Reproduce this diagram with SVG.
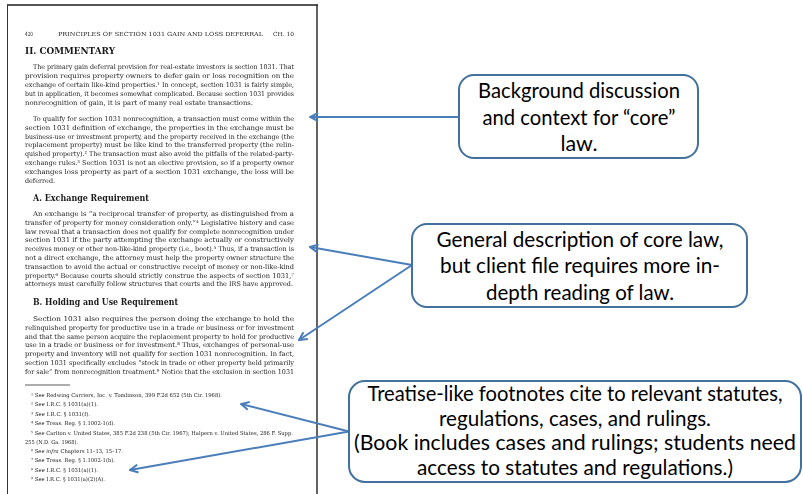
<svg xmlns="http://www.w3.org/2000/svg" width="803" height="494" viewBox="0 0 803 494">
<defs>
<marker id="ah" viewBox="0 0 10 10" refX="9" refY="5" markerWidth="10" markerHeight="10" markerUnits="userSpaceOnUse" orient="auto">
<path d="M1,1 L9,5 L1,9" fill="none" stroke="#4A7EBB" stroke-width="2" stroke-linejoin="miter"/>
</marker>
<filter id="gray" x="0" y="0" width="1" height="1" color-interpolation-filters="sRGB">
<feColorMatrix type="saturate" values="0"/>
</filter>
<style>
.pg{font-family:"DejaVu Serif","Liberation Serif",serif;fill:#1a1a1a;font-size:6.6px}
.hd{font-family:"DejaVu Serif","Liberation Serif",serif;fill:#1a1a1a;font-size:5.6px}
.h1{font-family:"DejaVu Serif","Liberation Serif",serif;fill:#1a1a1a;font-size:9.5px;font-weight:bold}
.h2{font-family:"DejaVu Serif","Liberation Serif",serif;fill:#1a1a1a;font-size:8.6px;font-weight:bold}
.fn{font-family:"DejaVu Serif","Liberation Serif",serif;fill:#1a1a1a;font-size:5.4px}
.it{font-style:italic}
.box{fill:#fff;stroke:#41719C;stroke-width:2}
.lbl{font-family:Lato,"Liberation Sans",sans-serif;fill:#000;font-size:22px;text-anchor:middle}
.lbl3{font-family:Lato,"Liberation Sans",sans-serif;fill:#000;font-size:21px;text-anchor:middle}
.cn{fill:none;stroke:#4A7EBB;stroke-width:2;marker-end:url(#ah)}
</style>
</defs>
<rect width="803" height="494" fill="#fff"/>
<g id="page" filter="url(#gray)">
<rect x="0" y="0" width="320" height="494" fill="#fff"/>
<line x1="7" y1="5" x2="318" y2="5" stroke="#555" stroke-width="2"/>
<line x1="7.5" y1="5" x2="7.5" y2="494" stroke="#333" stroke-width="1"/>
<line x1="317" y1="5" x2="317" y2="494" stroke="#222" stroke-width="1.4"/>
<text class="hd" x="25" y="35.5" textLength="8" lengthAdjust="spacingAndGlyphs">420</text>
<text class="hd" x="58" y="35.5" textLength="205" lengthAdjust="spacingAndGlyphs">PRINCIPLES OF SECTION 1031 GAIN AND LOSS DEFERRAL</text>
<text class="hd" x="273" y="35.5" textLength="21" lengthAdjust="spacingAndGlyphs">CH. 10</text>
<text class="h1" x="25" y="53.5" textLength="90" lengthAdjust="spacingAndGlyphs">II.   COMMENTARY</text>
<text class="pg" x="33" y="69" textLength="261" lengthAdjust="spacingAndGlyphs">The primary gain deferral provision for real-estate investors is section 1031. That</text>
<text class="pg" x="25" y="78" textLength="269" lengthAdjust="spacingAndGlyphs">provision requires property owners to defer gain or loss recognition on the</text>
<text class="pg" x="25" y="87" textLength="269" lengthAdjust="spacingAndGlyphs">exchange of certain like-kind properties.¹ In concept, section 1031 is fairly simple,</text>
<text class="pg" x="25" y="96" textLength="269" lengthAdjust="spacingAndGlyphs">but in application, it becomes somewhat complicated. Because section 1031 provides</text>
<text class="pg" x="25" y="105" textLength="228" lengthAdjust="spacingAndGlyphs">nonrecognition of gain, it is part of many real estate transactions.</text>
<text class="pg" x="33" y="121" textLength="261" lengthAdjust="spacingAndGlyphs">To qualify for section 1031 nonrecognition, a transaction must come within the</text>
<text class="pg" x="25" y="129.8" textLength="269" lengthAdjust="spacingAndGlyphs">section 1031 definition of exchange, the properties in the exchange must be</text>
<text class="pg" x="25" y="138.6" textLength="269" lengthAdjust="spacingAndGlyphs">business-use or investment property, and the property received in the exchange (the</text>
<text class="pg" x="25" y="147.4" textLength="269" lengthAdjust="spacingAndGlyphs">replacement property) must be like kind to the transferred property (the relin-</text>
<text class="pg" x="25" y="156.2" textLength="269" lengthAdjust="spacingAndGlyphs">quished property).² The transaction must also avoid the pitfalls of the related-party-</text>
<text class="pg" x="25" y="165" textLength="269" lengthAdjust="spacingAndGlyphs">exchange rules.³ Section 1031 is not an elective provision, so if a property owner</text>
<text class="pg" x="25" y="173.8" textLength="269" lengthAdjust="spacingAndGlyphs">exchanges loss property as part of a section 1031 exchange, the loss will be</text>
<text class="pg" x="25" y="182.6" textLength="30" lengthAdjust="spacingAndGlyphs">deferred.</text>
<text class="h2" x="33" y="201" textLength="116" lengthAdjust="spacingAndGlyphs">A.   Exchange Requirement</text>
<text class="pg" x="33" y="216" textLength="261" lengthAdjust="spacingAndGlyphs">An exchange is “a reciprocal transfer of property, as distinguished from a</text>
<text class="pg" x="25" y="224.8" textLength="269" lengthAdjust="spacingAndGlyphs">transfer of property for money consideration only.”⁴ Legislative history and case</text>
<text class="pg" x="25" y="233.6" textLength="269" lengthAdjust="spacingAndGlyphs">law reveal that a transaction does not qualify for complete nonrecognition under</text>
<text class="pg" x="25" y="242.4" textLength="269" lengthAdjust="spacingAndGlyphs">section 1031 if the party attempting the exchange actually or constructively</text>
<text class="pg" x="25" y="251.2" textLength="269" lengthAdjust="spacingAndGlyphs">receives money or other non-like-kind property (i.e., boot).⁵ Thus, if a transaction is</text>
<text class="pg" x="25" y="260" textLength="269" lengthAdjust="spacingAndGlyphs">not a direct exchange, the attorney must help the property owner structure the</text>
<text class="pg" x="25" y="268.8" textLength="269" lengthAdjust="spacingAndGlyphs">transaction to avoid the actual or constructive receipt of money or non-like-kind</text>
<text class="pg" x="25" y="277.6" textLength="269" lengthAdjust="spacingAndGlyphs">property.⁶ Because courts should strictly construe the aspects of section 1031,⁷</text>
<text class="pg" x="25" y="286.4" textLength="268" lengthAdjust="spacingAndGlyphs">attorneys must carefully follow structures that courts and the IRS have approved.</text>
<text class="h2" x="33" y="305" textLength="145" lengthAdjust="spacingAndGlyphs">B.   Holding and Use Requirement</text>
<text class="pg" x="33" y="321" textLength="261" lengthAdjust="spacingAndGlyphs">Section 1031 also requires the person doing the exchange to hold the</text>
<text class="pg" x="25" y="329.8" textLength="269" lengthAdjust="spacingAndGlyphs">relinquished property for productive use in a trade or business or for investment</text>
<text class="pg" x="25" y="338.6" textLength="269" lengthAdjust="spacingAndGlyphs">and that the same person acquire the replacement property to hold for productive</text>
<text class="pg" x="25" y="347.4" textLength="269" lengthAdjust="spacingAndGlyphs">use in a trade or business or for investment.⁸ Thus, exchanges of personal-use</text>
<text class="pg" x="25" y="356.2" textLength="269" lengthAdjust="spacingAndGlyphs">property and inventory will not qualify for section 1031 nonrecognition. In fact,</text>
<text class="pg" x="25" y="365" textLength="269" lengthAdjust="spacingAndGlyphs">section 1031 specifically excludes “stock in trade or other property held primarily</text>
<text class="pg" x="25" y="373.8" textLength="269" lengthAdjust="spacingAndGlyphs">for sale” from nonrecognition treatment.⁹ Notice that the exclusion in section 1031</text>
<line x1="25" y1="385" x2="70" y2="385" stroke="#333" stroke-width="0.8"/>
<text class="fn" x="31" y="396.8" textLength="191" lengthAdjust="spacingAndGlyphs">¹  <tspan class="it">See</tspan> Redwing Carriers, Inc. v. Tomlinson, 399 F.2d 652 (5th Cir. 1968).</text>
<text class="fn" x="31" y="406.3" textLength="67" lengthAdjust="spacingAndGlyphs">²  <tspan class="it">See</tspan> I.R.C. § 1031(a)(1).</text>
<text class="fn" x="31" y="415.8" textLength="59" lengthAdjust="spacingAndGlyphs">³  <tspan class="it">See</tspan> I.R.C. § 1031(f).</text>
<text class="fn" x="31" y="425.3" textLength="84" lengthAdjust="spacingAndGlyphs">⁴  <tspan class="it">See</tspan> Treas. Reg. § 1.1002-1(d).</text>
<text class="fn" x="31" y="434.8" textLength="262" lengthAdjust="spacingAndGlyphs">⁵  <tspan class="it">See</tspan> Carlton v. United States, 385 F.2d 238 (5th Cir. 1967); Halpern v. United States, 286 F. Supp.</text>
<text class="fn" x="25" y="443.8" textLength="53" lengthAdjust="spacingAndGlyphs">255 (N.D. Ga. 1968).</text>
<text class="fn" x="31" y="452.8" textLength="92" lengthAdjust="spacingAndGlyphs">⁶  <tspan class="it">See infra</tspan> Chapters 11–13, 15–17.</text>
<text class="fn" x="31" y="462.3" textLength="84" lengthAdjust="spacingAndGlyphs">⁷  <tspan class="it">See</tspan> Treas. Reg. § 1.1002-1(b).</text>
<text class="fn" x="31" y="471.8" textLength="67" lengthAdjust="spacingAndGlyphs">⁸  <tspan class="it">See</tspan> I.R.C. § 1031(a)(1).</text>
<text class="fn" x="31" y="481.3" textLength="74" lengthAdjust="spacingAndGlyphs">⁹  <tspan class="it">See</tspan> I.R.C. § 1031(a)(2)(A).</text>
</g>
<g id="connectors">
<line class="cn" x1="459" y1="117" x2="310" y2="117"/>
<line class="cn" x1="412" y1="265" x2="310" y2="247"/>
<line class="cn" x1="412" y1="265" x2="299" y2="340"/>
<line class="cn" x1="349" y1="431.5" x2="241" y2="404"/>
<line class="cn" x1="349" y1="431.5" x2="130" y2="470"/>
</g>
<g id="box1">
<rect class="box" x="459" y="75" width="239" height="83" rx="15"/>
<text class="lbl" x="579" y="98" textLength="202" lengthAdjust="spacingAndGlyphs">Background discussion</text>
<text class="lbl" x="579" y="124.5" textLength="193" lengthAdjust="spacingAndGlyphs">and context for “core”</text>
<text class="lbl" x="579" y="151" textLength="37" lengthAdjust="spacingAndGlyphs">law.</text>
</g>
<g id="box2">
<rect class="box" x="412" y="224" width="335" height="83" rx="15"/>
<text class="lbl" x="580" y="246.5" textLength="287" lengthAdjust="spacingAndGlyphs">General description of core law,</text>
<text class="lbl" x="580" y="273" textLength="280" lengthAdjust="spacingAndGlyphs">but client file requires more in-</text>
<text class="lbl" x="580" y="299.5" textLength="188" lengthAdjust="spacingAndGlyphs">depth reading of law.</text>
</g>
<g id="box3">
<rect class="box" x="349" y="381" width="452" height="101" rx="16"/>
<text class="lbl3" x="575" y="401" textLength="415" lengthAdjust="spacingAndGlyphs">Treatise-like footnotes cite to relevant statutes,</text>
<text class="lbl3" x="575" y="425.5" textLength="272" lengthAdjust="spacingAndGlyphs">regulations, cases, and rulings.</text>
<text class="lbl3" x="575" y="450" textLength="442" lengthAdjust="spacingAndGlyphs">(Book includes cases and rulings; students need</text>
<text class="lbl3" x="575" y="474.5" textLength="316" lengthAdjust="spacingAndGlyphs">access to statutes and regulations.)</text>
</g>
</svg>
